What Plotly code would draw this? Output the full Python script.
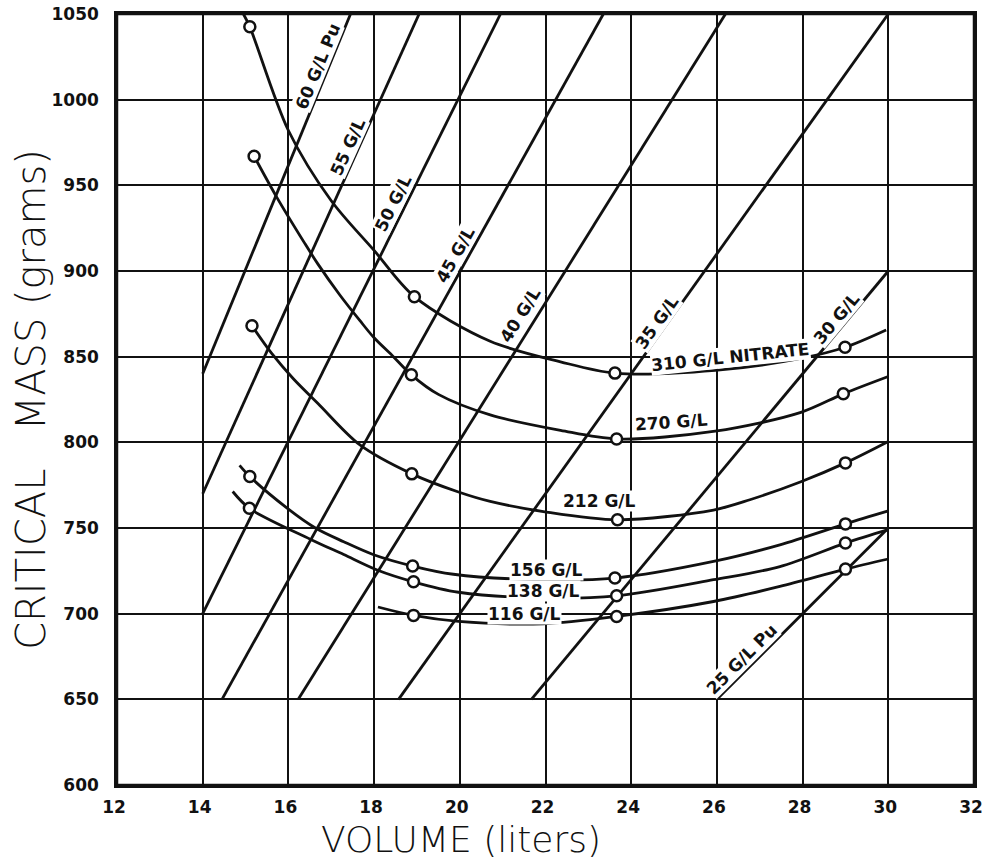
import math
import plotly.graph_objects as go

# ---------------- data ----------------
volume_ticks = [12, 14, 16, 18, 20, 22, 24, 26, 28, 30, 32]
mass_ticks = [600, 650, 700, 750, 800, 850, 900, 950, 1000, 1050]

# constant Pu-concentration lines (start / end points)
pu_labels = ["60 G/L Pu", "55 G/L", "50 G/L", "45 G/L", "40 G/L", "35 G/L", "30 G/L", "25 G/L Pu"]
pu_v_start = [14.0, 14.0, 14.0, 14.45, 16.23, 18.57, 21.67, 26.0]
pu_m_start = [840, 770, 700, 650, 650, 650, 650, 650]
pu_v_end = [17.45, 19.05, 20.95, 23.35, 26.2, 30.0, 30.0, 30.0]
pu_m_end = [1050, 1050, 1050, 1050, 1050, 1050, 900, 750]

# nitrate curves
n310_v = [14.95, 15.1, 16.0, 17.0, 18.0, 18.94, 20.71, 22.35, 23.62, 25.96, 27.96, 28.99, 29.95]
n310_m = [1050, 1042.5, 982, 941, 912, 885, 859, 847, 840.4, 842, 849, 855.5, 865.6]
n270_v = [15.2, 15.73, 16.36, 16.69, 17.2, 17.67, 18.0, 18.45, 18.87, 19.5, 20.71, 22.35, 23.66, 25.96, 27.96, 28.95, 30.0]
n270_m = [967, 943, 917, 904, 886, 871, 861, 850, 839.4, 828, 816, 807, 802, 806.5, 817.5, 828.3, 838.4]
n212_v = [15.15, 15.61, 16.11, 16.69, 17.67, 18.88, 19.97, 20.71, 21.95, 23.68, 25.92, 26.77, 27.96, 29.0, 30.0]
n212_m = [868, 851.9, 837.3, 822.7, 798.5, 781.6, 771, 765.5, 759.6, 754.8, 760.5, 766.5, 777, 788, 800.5]
n156_v = [14.86, 15.1, 15.97, 16.63, 17.29, 17.99, 18.9, 19.85, 21.95, 23.62, 25.92, 27.47, 29.0, 30.0]
n156_m = [786.5, 780, 761.6, 750, 742, 734.4, 727.8, 723, 719.8, 720.8, 730.5, 740.2, 752.4, 760]
n138_v = [14.7, 15.09, 16.51, 17.29, 18.07, 18.92, 19.97, 21.95, 23.66, 25.92, 27.47, 29.0, 30.0]
n138_m = [771.3, 761.5, 743.5, 734.5, 725.5, 718.6, 712.5, 709.1, 710.4, 719.8, 727.5, 741.2, 749]
n116_v = [18.09, 18.92, 19.97, 21.95, 23.66, 25.92, 27.47, 29.0, 30.0]
n116_m = [703.9, 699, 695.5, 694.1, 698.4, 707.1, 715.9, 726, 731.9]

# measured points (open circles)
p310_v = [15.1, 18.94, 23.62, 28.99]
p310_m = [1042.5, 885, 840.4, 855.5]
p270_v = [15.2, 18.87, 23.66, 28.95]
p270_m = [967, 839.4, 802, 828.3]
p212_v = [15.15, 18.88, 23.68, 29.0]
p212_m = [868, 781.6, 754.8, 788]
p156_v = [15.1, 18.9, 23.62, 29.0]
p156_m = [780, 727.8, 720.8, 752.4]
p138_v = [15.09, 18.92, 23.66, 29.0]
p138_m = [761.5, 718.6, 710.4, 741.2]
p116_v = [18.92, 23.66, 29.0]
p116_m = [699, 698.4, 726]

nitrate_labels = ["310 G/L NITRATE", "270 G/L", "212 G/L", "156 G/L", "138 G/L", "116 G/L"]

# ---------------- layout geometry ----------------
W, H = 984, 864
ML, MR, MT, MB = 117, 10, 14, 79
X0, X1 = 12, 32
Y0, Y1 = 600, 1050
px_per_x = (W - ML - MR) / (X1 - X0)
px_per_y = (H - MT - MB) / (Y1 - Y0)

INK = "#111111"
LABEL_FONT = dict(family="DejaVu Sans", size=17, color=INK, weight="bold")
TICK_FONT = dict(family="DejaVu Sans", size=17, color=INK, weight="bold")

fig = go.Figure()

# constant-concentration lines
for vs, ms, ve, me in zip(pu_v_start, pu_m_start, pu_v_end, pu_m_end):
    fig.add_trace(go.Scatter(x=[vs, ve], y=[ms, me], mode="lines",
                             line=dict(color=INK, width=2.8), hoverinfo="skip", showlegend=False))

curves = [(n310_v, n310_m), (n270_v, n270_m), (n212_v, n212_m),
          (n156_v, n156_m), (n138_v, n138_m), (n116_v, n116_m)]
points = [(p310_v, p310_m), (p270_v, p270_m), (p212_v, p212_m),
          (p156_v, p156_m), (p138_v, p138_m), (p116_v, p116_m)]

for cv, cm in curves:
    fig.add_trace(go.Scatter(x=cv, y=cm, mode="lines",
                             line=dict(color=INK, width=2.8, shape="spline", smoothing=0.9),
                             hoverinfo="skip", showlegend=False))
for pv, pm in points:
    fig.add_trace(go.Scatter(x=pv, y=pm, mode="markers",
                             marker=dict(symbol="circle", size=11, color="white",
                                         line=dict(color=INK, width=2.5)),
                             hoverinfo="skip", showlegend=False))

annotations = []

# labels along the concentration lines
pu_label_pos = [(16.67, 1019.3), (17.38, 972.6), (18.45, 939.6), (19.89, 909.4),
                (21.41, 874.3), (24.6, 870.5), (28.8, 872.5), (26.58, 673.7)]
for text, (lx, ly), vs, ms, ve, me in zip(pu_labels, pu_label_pos, pu_v_start, pu_m_start,
                                          pu_v_end, pu_m_end):
    ang = math.degrees(math.atan2((me - ms) * px_per_y, (ve - vs) * px_per_x))
    annotations.append(dict(x=lx, y=ly, xref="x", yref="y", text=text, showarrow=False,
                            textangle=-ang, font=LABEL_FONT, bgcolor="white",
                            borderpad=0, xanchor="center", yanchor="middle"))

# labels of the nitrate curves
nitrate_label_pos = [(26.31, 849.7, -6), (24.95, 811.6, -4), (23.25, 765.5, 0),
                     (22.03, 725.6, 0), (21.95, 713.0, 0), (21.5, 699.8, 0)]
for text, (lx, ly, a) in zip(nitrate_labels, nitrate_label_pos):
    annotations.append(dict(x=lx, y=ly, xref="x", yref="y", text=text, showarrow=False,
                            textangle=a, font=LABEL_FONT, bgcolor="white",
                            borderpad=0, xanchor="center", yanchor="middle"))

# axis titles
annotations.append(dict(x=-0.1003, y=0.4996, xref="paper", yref="paper",
                        text="CRITICAL\u00a0\u00a0\u00a0MASS (grams)", textangle=-90,
                        showarrow=False,
                        font=dict(family="DejaVu Sans", size=40, color=INK, weight=200),
                        xanchor="center", yanchor="middle"))
annotations.append(dict(x=0.4014, y=-0.071, xref="paper", yref="paper",
                        text="VOLUME (liters)", showarrow=False,
                        font=dict(family="DejaVu Sans", size=36, color=INK, weight=200),
                        xanchor="center", yanchor="middle"))

axis_common = dict(showgrid=True, gridcolor=INK, gridwidth=1.8, zeroline=False,
                   showline=True, linecolor=INK, linewidth=2.5, mirror="all",
                   ticks="", tickfont=TICK_FONT, automargin=False,
                   ticklabeloverflow="allow")

fig.update_layout(
    width=W, height=H,
    margin=dict(l=ML, r=MR, t=MT, b=MB, autoexpand=False),
    paper_bgcolor="white", plot_bgcolor="white",
    showlegend=False, hovermode=False,
    xaxis=dict(range=[X0, X1], tickvals=volume_ticks, ticktext=[str(v) for v in volume_ticks],
               ticklabelstandoff=5, ticklabelshift=-3, **axis_common),
    yaxis=dict(range=[Y0, Y1], tickvals=mass_ticks, ticktext=[str(v) for v in mass_ticks],
               ticklabelstandoff=12, **axis_common),
    annotations=annotations,
)

# plot frame drawn explicitly so the right edge is always visible
fig.add_shape(type="rect", xref="paper", yref="paper", x0=0, x1=1, y0=0, y1=1,
              line=dict(color=INK, width=2.5), fillcolor="rgba(0,0,0,0)", layer="above")

fig.write_html(
    "out.html",
    config={"displayModeBar": False},
    post_script="document.body.style.margin='0px';document.body.style.overflow='hidden';",
)
